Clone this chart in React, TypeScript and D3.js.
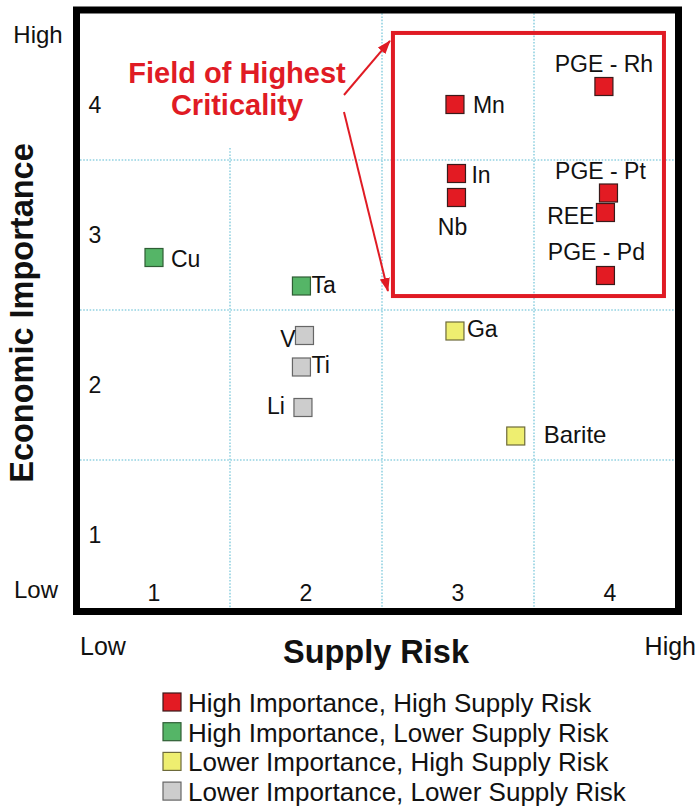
import React from 'react';
import * as d3 from 'd3';

// chart values
const elements = ['Cu', 'Ta', 'Mn', 'PGE - Rh', 'In', 'Nb', 'PGE - Pt', 'REE', 'PGE - Pd', 'V', 'Ti', 'Li', 'Ga', 'Barite'];
const supplyRisk = [1.0, 1.97, 2.98, 3.96, 2.99, 2.99, 3.99, 3.97, 3.97, 1.99, 1.97, 1.98, 2.98, 3.38];
const economicImportance = [2.85, 2.66, 3.87, 3.99, 3.41, 3.25, 3.28, 3.15, 2.73, 2.33, 2.12, 1.85, 2.36, 1.66];
const groups = ['HL', 'HL', 'HH', 'HH', 'HH', 'HH', 'HH', 'HH', 'HH', 'LL', 'LL', 'LL', 'LH', 'LH'];

const tickLabels = ['1', '2', '3', '4'];
const xTickValues = [1, 2, 3, 4];
const yTickValues = [1, 2, 3, 3.87];

const legendKeys = ['HH', 'HL', 'LH', 'LL'];
const legendLabels = [
  'High Importance, High Supply Risk',
  'High Importance, Lower Supply Risk',
  'Lower Importance, High Supply Risk',
  'Lower Importance, Lower Supply Risk',
];

// styles
const fills: Record<string, string> = { HH: '#e31b23', HL: '#55b567', LH: '#eeee70', LL: '#cdcdcd' };
const strokes: Record<string, string> = { HH: '#3a1a1a', HL: '#2f5e35', LH: '#6d6a3a', LL: '#666666' };

// label offsets (dx, dy from square centre) and anchor
const labelPlace: Record<string, [number, number, string]> = {
  'Cu': [17, 9, 'start'],
  'Ta': [10, 7, 'start'],
  'Mn': [18, 8, 'start'],
  'PGE - Rh': [0, -15, 'middle'],
  'In': [15, 9, 'start'],
  'Nb': [-4, 37, 'middle'],
  'PGE - Pt': [-8, -14, 'middle'],
  'REE': [-11, 11, 'end'],
  'PGE - Pd': [-9, -16, 'middle'],
  'V': [-9, 11, 'end'],
  'Ti': [10, 6, 'start'],
  'Li': [-18, 6, 'end'],
  'Ga': [12, 6, 'start'],
  'Barite': [28, 7, 'start'],
};

const FONT = '"Liberation Sans", Arial, Helvetica, sans-serif';
const GRID = '#93d2e2';
const RED = '#e01b24';

const x = d3.scaleLinear().domain([0.5, 4.5]).range([78, 686]);
const y = d3.scaleLinear().domain([0.5, 4.5]).range([610, 10]);

const gridAt = [1.5, 2.5, 3.5];
const gridTop = [3.58, 4.5, 4.5];
const criticalBox = { x0: 2.572, x1: 4.355, y0: 2.593, y1: 4.347 };

const SQ = 18;

export default function App() {
  const bx0 = x(criticalBox.x0), bx1 = x(criticalBox.x1);
  const by0 = y(criticalBox.y1), by1 = y(criticalBox.y0);

  return (
    <svg width={697} height={808} style={{ position: 'absolute', left: 0, top: 0, background: '#fff' }}
      fontFamily={FONT}>
      <defs>
        <marker id="ah" markerUnits="userSpaceOnUse" markerWidth={14} markerHeight={10}
          refX={13} refY={5} orient="auto">
          <path d="M0,0 L14,5 L0,10 Z" fill={RED} />
        </marker>
      </defs>

      {/* grid */}
      {gridAt.map((v, i) => (
        <line key={'v' + i} x1={x(v)} x2={x(v)} y1={y(gridTop[i])} y2={y(0.5)}
          stroke={GRID} strokeWidth={1.6} strokeDasharray="1.6 1.6" />
      ))}
      {gridAt.map((v, i) => (
        <line key={'h' + i} x1={80} x2={676} y1={y(v)} y2={y(v)}
          stroke={GRID} strokeWidth={1.6} strokeDasharray="1.6 1.6" />
      ))}

      {/* frame */}
      <rect x={76.5} y={10} width={602} height={601.5} fill="none" stroke="#000" strokeWidth={7} />

      {/* field of highest criticality */}
      <rect x={bx0} y={by0} width={bx1 - bx0} height={by1 - by0} fill="none" stroke={RED} strokeWidth={4} />
      <text x={237} y={83} textAnchor="middle" fontWeight="bold" fontSize={29} fill={RED}>Field of Highest</text>
      <text x={237} y={115} textAnchor="middle" fontWeight="bold" fontSize={29} fill={RED}>Criticality</text>
      <line x1={344} y1={95} x2={bx0 - 3} y2={by0 + 8} stroke={RED} strokeWidth={2} markerEnd="url(#ah)" />
      <line x1={344} y1={112} x2={bx0 - 5} y2={by1 - 5} stroke={RED} strokeWidth={2} markerEnd="url(#ah)" />

      {/* tick labels */}
      {xTickValues.map((v, i) => (
        <text key={'xt' + i} x={x(v)} y={601} textAnchor="middle" fontSize={23} fill="#111">{tickLabels[i]}</text>
      ))}
      {yTickValues.map((v, i) => (
        <text key={'yt' + i} x={95} y={y(v) + 8} textAnchor="middle" fontSize={23} fill="#111">{tickLabels[i]}</text>
      ))}
      <text x={38} y={43} textAnchor="middle" fontSize={24} fill="#111">High</text>
      <text x={36} y={598} textAnchor="middle" fontSize={24} fill="#111">Low</text>
      <text x={80} y={655} fontSize={25} fill="#111">Low</text>
      <text x={696} y={655} textAnchor="end" fontSize={25} fill="#111">High</text>

      {/* axis titles */}
      <text x={376} y={663} textAnchor="middle" fontWeight="bold" fontSize={32.5} fill="#111">Supply Risk</text>
      <text transform="translate(33,313) rotate(-90)" textAnchor="middle" fontWeight="bold" fontSize={32.5} fill="#111">
        Economic Importance
      </text>

      {/* points */}
      {elements.map((name, i) => {
        const cx = x(supplyRisk[i]);
        const cy = y(economicImportance[i]);
        const [dx, dy, anchor] = labelPlace[name];
        return (
          <g key={name}>
            <rect x={cx - SQ / 2} y={cy - SQ / 2} width={SQ} height={SQ}
              fill={fills[groups[i]]} stroke={strokes[groups[i]]} strokeWidth={1.2} />
            <text x={cx + dx} y={cy + dy} textAnchor={anchor} fontSize={name === 'Barite' ? 24 : 23} fill="#111">{name}</text>
          </g>
        );
      })}

      {/* legend */}
      {legendKeys.map((k, i) => (
        <g key={k} transform={`translate(163,${693 + i * 29.7})`}>
          <rect x={0} y={0} width={18} height={18} fill={fills[k]} stroke={strokes[k]} strokeWidth={1.2} />
          <text x={25} y={19} fontSize={26} fill="#111">{legendLabels[i]}</text>
        </g>
      ))}
    </svg>
  );
}
